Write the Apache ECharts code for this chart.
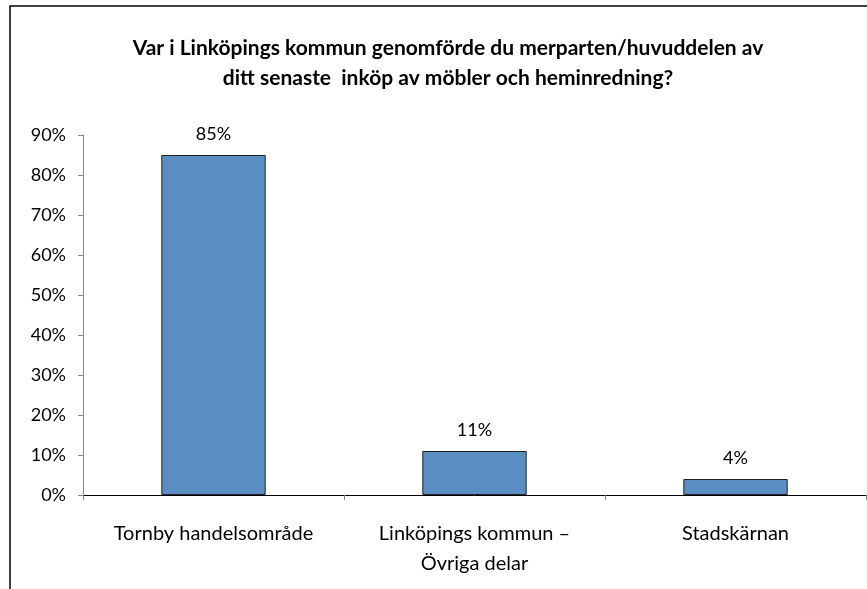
<!DOCTYPE html>
<html>
<head>
<meta charset="utf-8">
<script src="https://cdn.jsdelivr.net/npm/echarts@6/dist/echarts.min.js"></script>
<style>
  html, body { margin: 0; padding: 0; background: #fff; }
  #chart { width: 867px; height: 589px; }
</style>
</head>
<body>
<div id="chart"></div>
<script>
const categories = ['Tornby handelsområde', 'Linköpings kommun –\nÖvriga delar', 'Stadskärnan']
const values = [85, 11, 4]
const yTicks = [0, 10, 20, 30, 40, 50, 60, 70, 80, 90]

const font = 'Lato, "Open Sans", sans-serif'
const chart = echarts.init(document.getElementById('chart'))

const option = {
  animation: false,
  title: {
    text: 'Var i Linköpings kommun genomförde du merparten/huvuddelen av\nditt senaste  inköp av möbler och heminredning?',
    left: 443,
    top: 28,
    textAlign: 'center',
    textStyle: {
      fontFamily: font,
      fontSize: 21,
      fontWeight: 'bold',
      color: '#000',
      lineHeight: 30
    }
  },
  graphic: [
    {
      type: 'rect',
      shape: { x: 10, y: 6, width: 900, height: 700 },
      style: { fill: 'none', stroke: '#000', lineWidth: 1.5 },
      silent: true
    }
  ],
  grid: { left: 83, right: 1, top: 135, bottom: 94 },
  xAxis: {
    type: 'category',
    data: categories,
    axisLine: { lineStyle: { color: '#000', width: 1 } },
    axisTick: { show: true, length: 5, lineStyle: { color: '#888' } },
    axisLabel: {
      fontFamily: font,
      fontSize: 20,
      color: '#000',
      margin: 24,
      lineHeight: 30
    }
  },
  yAxis: {
    type: 'value',
    min: 0,
    max: 90,
    interval: 10,
    splitLine: { show: false },
    axisLine: { show: true, lineStyle: { color: '#888', width: 1 } },
    axisTick: { show: true, length: 5, lineStyle: { color: '#888' } },
    axisLabel: {
      fontFamily: font,
      fontSize: 18,
      color: '#000',
      margin: 17,
      formatter: (v) => (yTicks.includes(v) ? v + '%' : '')
    }
  },
  series: [
    {
      type: 'bar',
      data: values,
      barWidth: '40%',
      itemStyle: { color: '#5a8ec2', borderColor: '#222', borderWidth: 1 },
      label: {
        show: true,
        position: 'top',
        distance: 12,
        formatter: '{c}%',
        fontFamily: font,
        fontSize: 18,
        color: '#000'
      }
    }
  ]
}
chart.setOption(option)
</script>
</body>
</html>
